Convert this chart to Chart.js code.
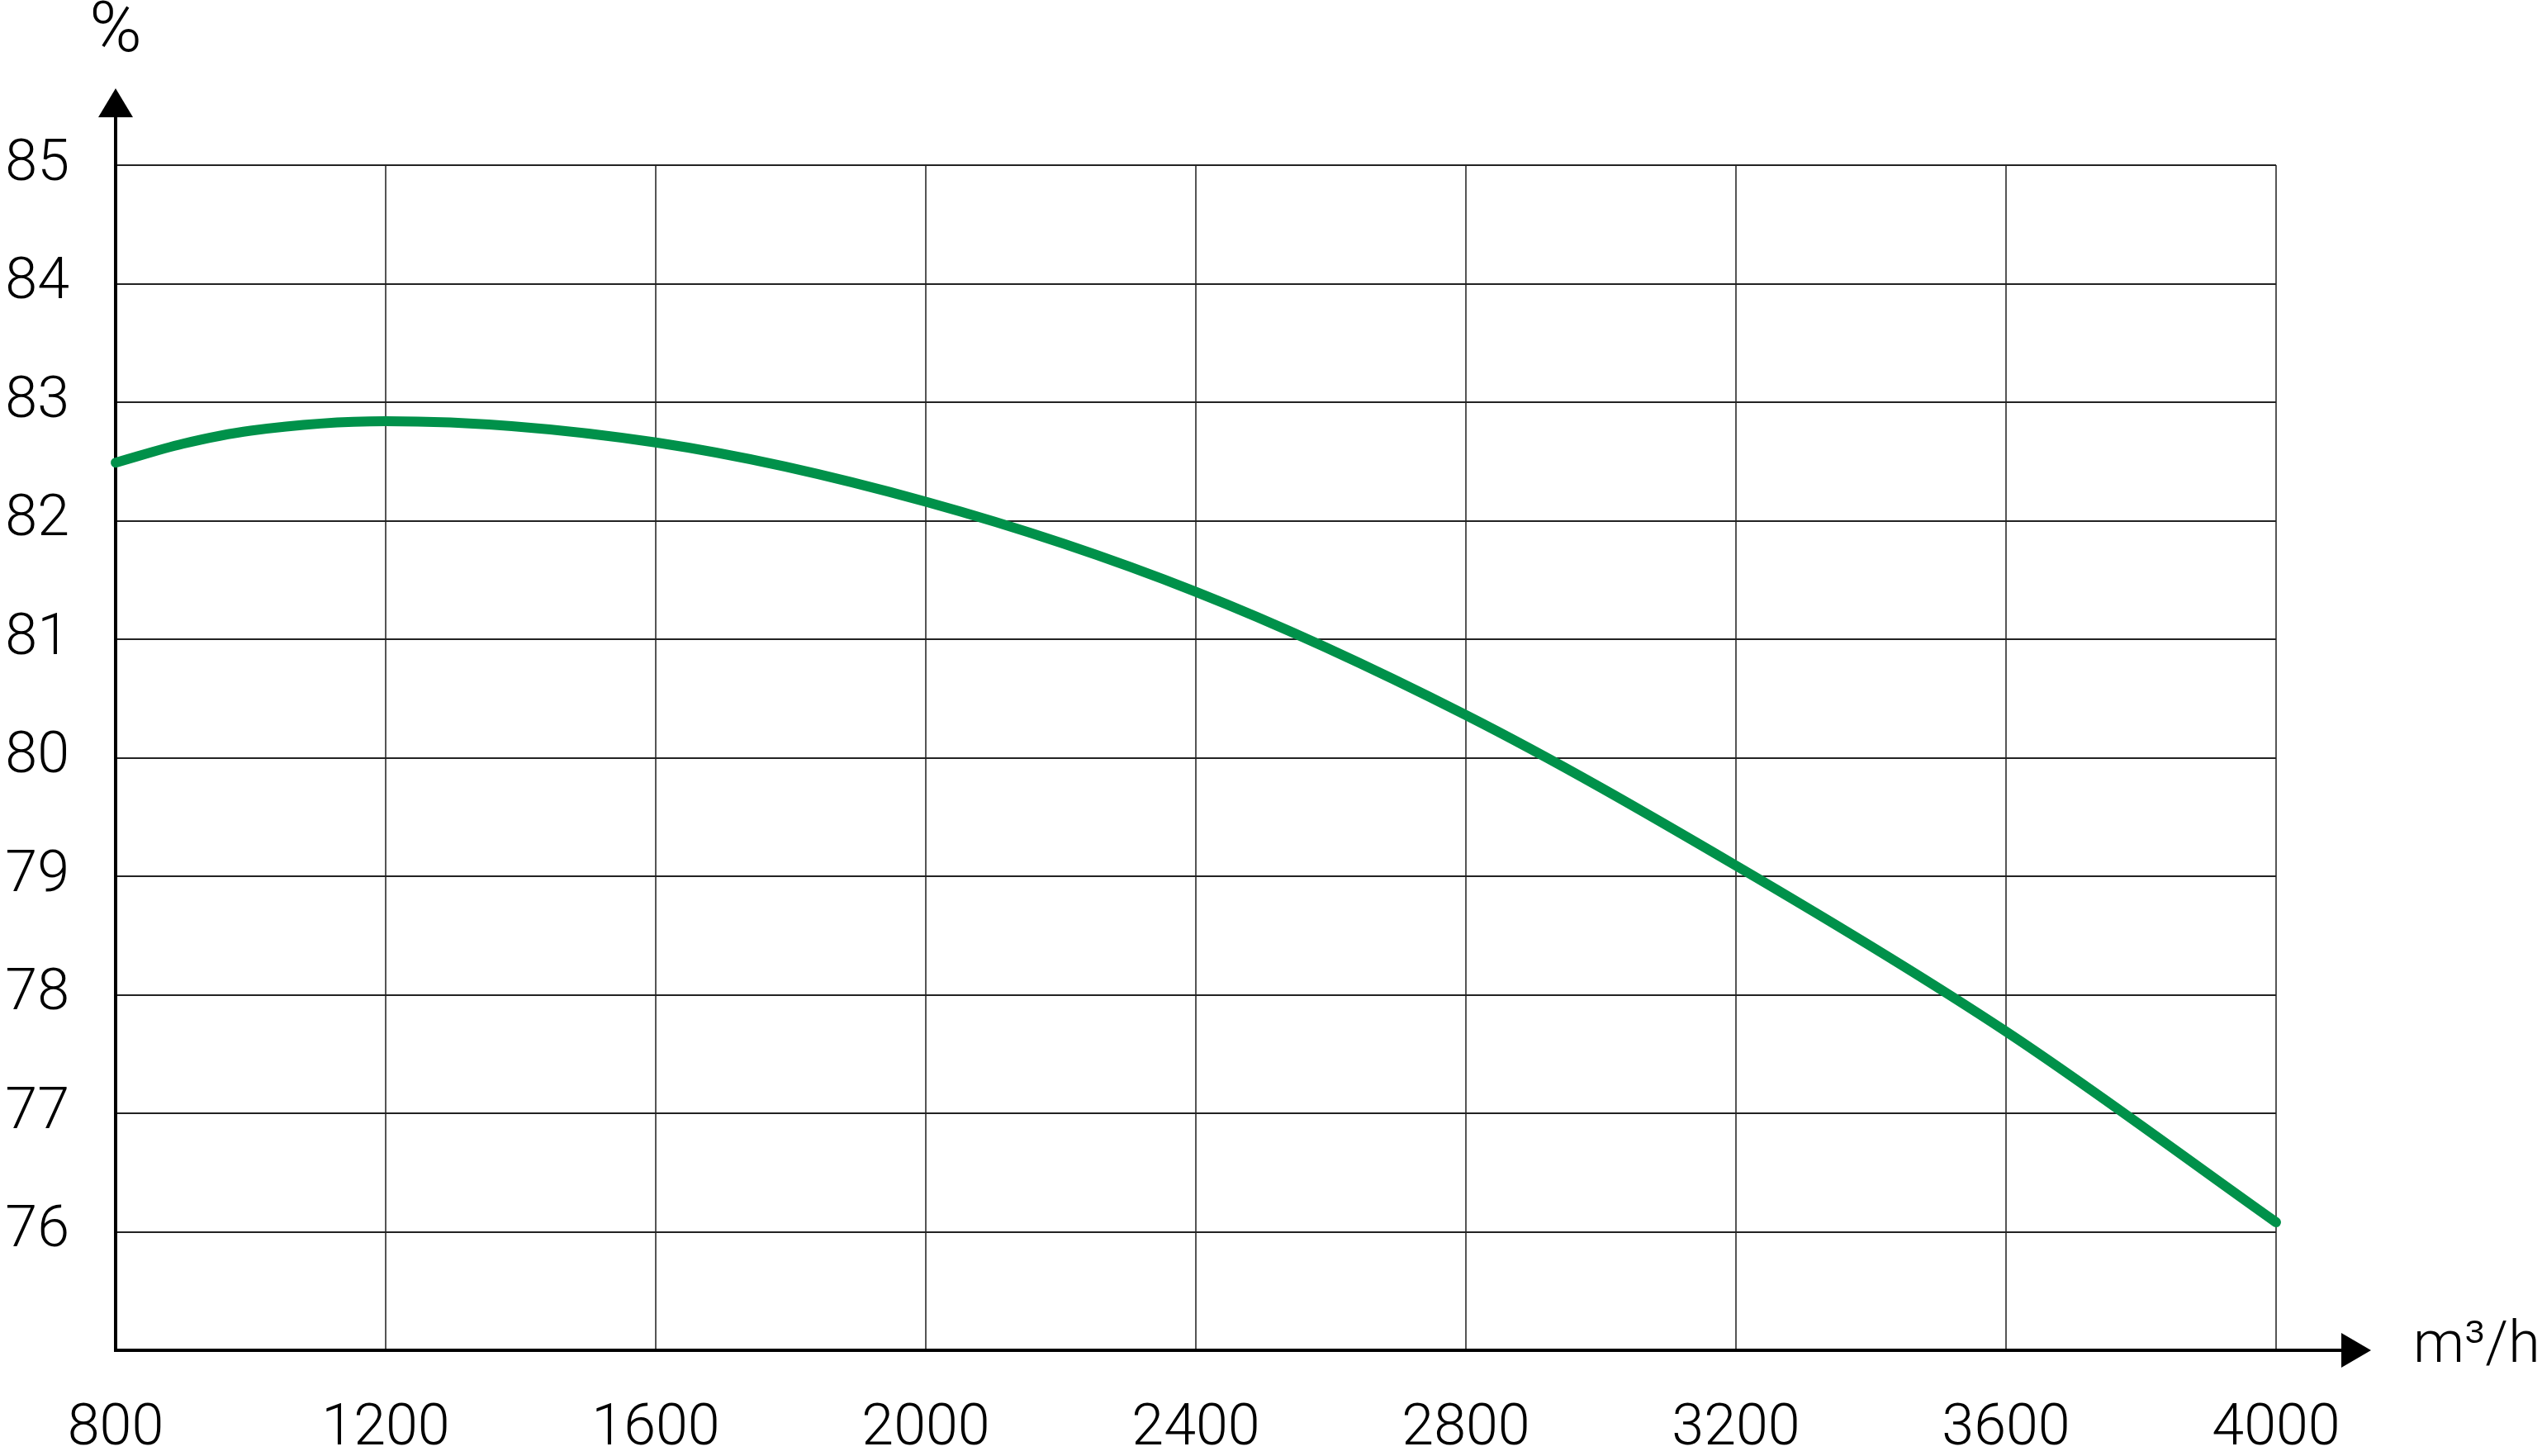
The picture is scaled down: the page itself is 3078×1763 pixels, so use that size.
<!DOCTYPE html>
<html>
<head>
<meta charset="utf-8">
<script src="https://cdn.jsdelivr.net/npm/chart.js@4"></script>
<style>
  html, body { margin: 0; padding: 0; background: #fff; }
  #wrap { width: 3078px; height: 1763px; position: relative; }
</style>
</head>
<body>
<div id="wrap"><canvas id="eff-chart"></canvas></div>
<script>
// airflow (m3/h) and efficiency (%)
const airflow = [800, 900, 1000, 1200, 1600, 2000, 2400, 2800, 3200, 3600, 4000];
const efficiency = [82.49, 82.65, 82.76, 82.84, 82.66, 82.16, 81.40, 80.36, 79.09, 77.69, 76.08];
const xTicks = [800, 1200, 1600, 2000, 2400, 2800, 3200, 3600, 4000];
const yTicks = [76, 77, 78, 79, 80, 81, 82, 83, 84, 85];

const FONT = 'Roboto, "DejaVu Sans", sans-serif';

// arrows + units
const axisDeco = {
    id: 'axisDeco',
    afterDraw(chart) {
        const ctx = chart.ctx;
        const a = chart.chartArea;
        ctx.save();
        ctx.fillStyle = '#000';
        ctx.strokeStyle = '#000';
        ctx.lineWidth = 4;
        // y axis up to the arrow
        ctx.beginPath();
        ctx.moveTo(a.left, a.top);
        ctx.lineTo(a.left, a.top - 60);
        ctx.stroke();
        ctx.beginPath();
        ctx.moveTo(a.left, a.top - 93);
        ctx.lineTo(a.left - 21, a.top - 58);
        ctx.lineTo(a.left + 21, a.top - 58);
        ctx.closePath();
        ctx.fill();
        // x axis to the arrow
        ctx.beginPath();
        ctx.moveTo(a.right, a.bottom);
        ctx.lineTo(a.right + 82, a.bottom);
        ctx.stroke();
        ctx.beginPath();
        ctx.moveTo(a.right + 115, a.bottom);
        ctx.lineTo(a.right + 79, a.bottom - 21);
        ctx.lineTo(a.right + 79, a.bottom + 21);
        ctx.closePath();
        ctx.fill();

        ctx.textBaseline = 'alphabetic';
        ctx.font = '300 86px ' + FONT;
        ctx.textAlign = 'center';
        ctx.fillText('%', a.left, 62);
        ctx.font = '300 70px ' + FONT;
        ctx.textAlign = 'left';
        ctx.fillText('m³/h', a.right + 166, a.bottom + 14);
        ctx.restore();
    }
};

document.addEventListener('DOMContentLoaded', function() {
    const ctx = document.getElementById('eff-chart').getContext('2d');
    new Chart(ctx, {
        type: 'line',
        data: {
            datasets: [{
                data: airflow.map((x, i) => ({ x: x, y: efficiency[i] })),
                borderColor: '#00914a',
                borderWidth: 12,
                borderCapStyle: 'round',
                pointRadius: 0,
                cubicInterpolationMode: 'monotone',
                fill: false,
                clip: 10
            }]
        },
        options: {
            responsive: true,
            maintainAspectRatio: false,
            animation: false,
            events: [],
            layout: { padding: { top: 200, right: 322, left: 0, bottom: 0 } },
            plugins: {
                legend: { display: false },
                tooltip: { enabled: false }
            },
            scales: {
                x: {
                    type: 'linear',
                    min: 800,
                    max: 4000,
                    afterBuildTicks: (s) => { s.ticks = xTicks.map(v => ({ value: v })); },
                    afterFit: (s) => { s.height = 128; },
                    grid: { color: '#555', lineWidth: 2, drawTicks: false },
                    border: { color: '#000', width: 4 },
                    ticks: {
                        padding: 54,
                        maxRotation: 0,
                        color: '#000',
                        font: { family: FONT, size: 70, weight: '300' },
                        callback: (v) => String(v)
                    }
                },
                y: {
                    min: 75,
                    max: 85,
                    afterBuildTicks: (s) => { s.ticks = [75].concat(yTicks).map(v => ({ value: v })); },
                    afterFit: (s) => { s.width = 140; },
                    grid: { color: '#222', lineWidth: 2, drawTicks: false },
                    border: { color: '#000', width: 4 },
                    ticks: {
                        padding: 56,
                        color: '#000',
                        font: { family: FONT, size: 70, weight: '300' },
                        callback: (v) => (yTicks.includes(v) ? String(v) : '')
                    }
                }
            }
        },
        plugins: [axisDeco]
    });
});
</script>
</body>
</html>
